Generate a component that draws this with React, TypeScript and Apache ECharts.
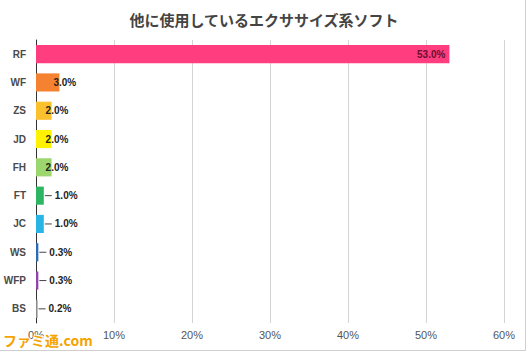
import React, { useEffect, useRef } from "react";
import * as echarts from "echarts";

const categories = ["RF", "WF", "ZS", "JD", "FH", "FT", "JC", "WS", "WFP", "BS"];
const values = [53.0, 3.0, 2.0, 2.0, 2.0, 1.0, 1.0, 0.3, 0.3, 0.2];
const colors = ["#FF3D7F", "#F58230", "#FBC02D", "#FFF200", "#9CD66E", "#2DB563", "#29B4E6", "#2B6CB5", "#8E44AD", "#8A8A8A"];
const labelStyles = ["inside", "overlap", "overlap", "overlap", "overlap", "leader", "leader", "leader", "leader", "leader"];
const xTicks = [0, 10, 20, 30, 40, 50, 60];
const titleText = "他に使用しているエクササイズ系ソフト";

const LABEL_FONT = "'Liberation Sans', 'Noto Sans', sans-serif";

export default function App() {
  const ref = useRef<HTMLDivElement>(null);
  useEffect(() => {
    const chart = echarts.init(ref.current!, null, { renderer: "svg" });
    const data = values.map((v, i) => {
      const kind = labelStyles[i];
      let label: any;
      if (kind === "inside") {
        label = {
          show: true,
          position: "insideRight",
          distance: 4,
          color: "#6a1030",
          fontWeight: "bold",
          fontSize: 10,
          fontFamily: LABEL_FONT,
          formatter: (p: any) => p.value.toFixed(1) + "%",
        };
      } else if (kind === "overlap") {
        label = {
          show: true,
          position: "right",
          offset: [-11, 0],
          color: "#222",
          fontWeight: "bold",
          fontSize: 10,
          fontFamily: LABEL_FONT,
          formatter: (p: any) => p.value.toFixed(1) + "%",
        };
      } else {
        label = {
          show: true,
          position: "right",
          distance: 1,
          formatter: (p: any) => "{ln|}{v|" + p.value.toFixed(1) + "%}",
          rich: {
            ln: { width: 7, height: 1, backgroundColor: "#444" },
            v: {
              color: "#222",
              fontWeight: "bold",
              fontSize: 10,
              fontFamily: LABEL_FONT,
              padding: [0, 0, 0, 3],
            },
          },
        };
      }
      return { value: v, itemStyle: { color: colors[i] }, label };
    });
    chart.setOption({
      animation: false,
      backgroundColor: "#ffffff",
      title: {
        text: titleText,
        left: "center",
        top: 7,
        textStyle: {
          fontFamily: "'Noto Sans CJK JP', sans-serif",
          fontSize: 15,
          fontWeight: "bold",
          color: "#444",
        },
      },
      grid: { left: 36, right: 24, top: 40, bottom: 29, containLabel: false },
      xAxis: {
        type: "value",
        min: xTicks[0],
        max: xTicks[xTicks.length - 1],
        interval: 10,
        axisLine: { show: false },
        axisTick: { show: false },
        splitLine: { show: true, lineStyle: { color: "#d4d4d4", width: 1 } },
        axisLabel: {
          formatter: (v: number) => v + "%",
          color: "#555",
          fontSize: 11,
          margin: 6,
          fontFamily: LABEL_FONT,
        },
      },
      yAxis: {
        type: "category",
        data: categories,
        inverse: true,
        axisLine: { show: true, lineStyle: { color: "#333", width: 1 } },
        axisTick: { show: false },
        axisLabel: {
          color: "#4a4a4a",
          fontWeight: "bold",
          fontSize: 10,
          margin: 10,
          fontFamily: LABEL_FONT,
        },
      },
      series: [
        {
          type: "bar",
          data,
          barCategoryGap: "36%",
        },
      ],
      graphic: [
        {
          type: "line",
          shape: { x1: 525.5, y1: 0, x2: 525.5, y2: 350.5 },
          style: { stroke: "#cfcfcf", lineWidth: 1 },
        },
        {
          type: "line",
          shape: { x1: 0, y1: 350.5, x2: 525.5, y2: 350.5 },
          style: { stroke: "#cfcfcf", lineWidth: 1 },
        },
        {
          type: "text",
          left: 2,
          bottom: 4,
          z: 100,
          style: {
            text: "ファミ通.com",
            fontFamily: "'Noto Sans CJK JP', sans-serif",
            fontSize: 14,
            fontWeight: "bold",
            fill: "#F5A300",
            stroke: "#ffffff",
            lineWidth: 2,
          },
        },
      ],
    });
    return () => chart.dispose();
  }, []);
  return <div ref={ref} style={{ width: 528, height: 352, position: "absolute", left: 0, top: 0 }} />;
}
